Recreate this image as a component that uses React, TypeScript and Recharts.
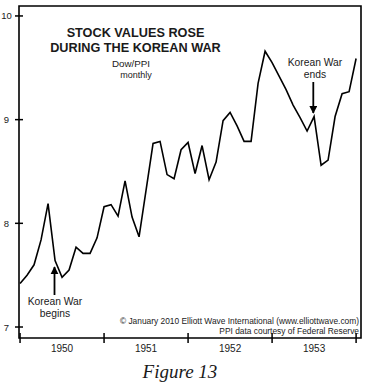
import React from 'react';
import { LineChart, Line, XAxis, YAxis, ReferenceArea } from 'recharts';

// Dow/PPI monthly, Jan 1950 .. Jan 1954 (index = months since Jan 1950)
const MONTHS = [
  0, 1, 2, 3, 4, 5, 6, 7, 8, 9, 10, 11,
  12, 13, 14, 15, 16, 17, 18, 19, 20, 21, 22, 23,
  24, 25, 26, 27, 28, 29, 30, 31, 32, 33, 34, 35,
  36, 37, 38, 39, 40, 41, 42, 43, 44, 45, 46, 47,
  48,
];
const DOW_PPI = [
  7.42, 7.5, 7.6, 7.84, 8.19, 7.64, 7.48, 7.55, 7.77, 7.71, 7.71, 7.86,
  8.16, 8.18, 8.07, 8.41, 8.06, 7.87, 8.32, 8.77, 8.79, 8.47, 8.43, 8.71,
  8.78, 8.48, 8.75, 8.42, 8.59, 8.99, 9.07, 8.94, 8.79, 8.79, 9.35, 9.66,
  9.55, 9.42, 9.29, 9.14, 9.02, 8.89, 9.03, 8.56, 8.61, 9.03, 9.25, 9.27,
  9.59,
];
const Y_TICKS = [7, 8, 9, 10];
const YEAR_TICKS = [0, 12, 24, 36, 48];
const YEAR_LABEL_POS = [6, 18, 30, 42];
const YEARS = ['1950', '1951', '1952', '1953'];

const data = MONTHS.map((m, i) => ({ m, v: DOW_PPI[i] }));

const font = '"Liberation Sans", Arial, Helvetica, sans-serif';
const ink = '#1a1a1a';

function YTick({ x, y, payload }: any) {
  return (
    <g>
      <line x1={x - 4} x2={x + 4} y1={y} y2={y} stroke="#000" strokeWidth={1.5} />
      <text x={x - 12.5} y={y + 3.5} textAnchor="middle" fontSize={9.5} fontFamily={font} fill={ink}>
        {payload.value}
      </text>
    </g>
  );
}

function XTick({ x, y, payload }: any) {
  const v = payload.value;
  if (YEAR_TICKS.includes(v)) {
    return <line x1={x} x2={x} y1={y - 5} y2={y + 5} stroke="#000" strokeWidth={1.5} />;
  }
  const idx = YEAR_LABEL_POS.indexOf(v);
  return (
    <text x={x} y={y + 14} textAnchor="middle" fontSize={10} fontFamily={font} fill={ink}>
      {YEARS[idx]}
    </text>
  );
}

export default function App() {
  return (
    <div style={{ position: 'absolute', left: 0, top: 0, width: 367, height: 386, background: '#fff' }}>
      <LineChart width={367} height={386} data={data} margin={{ top: 6, right: 6, left: 0, bottom: 0 }}>
        <XAxis
          dataKey="m"
          type="number"
          domain={[-0.15, 48.7]}
          allowDataOverflow
          ticks={[...YEAR_TICKS, ...YEAR_LABEL_POS].sort((a, b) => a - b)}
          interval={0}
          tickSize={0}
          tickMargin={0}
          axisLine={false}
          tickLine={false}
          tick={<XTick />}
          height={48}
        />
        <YAxis
          type="number"
          domain={[6.894, 10.096]}
          allowDataOverflow
          ticks={Y_TICKS}
          interval={0}
          tickSize={0}
          tickMargin={0}
          axisLine={false}
          tickLine={false}
          tick={<YTick />}
          width={19}
        />
        <ReferenceArea
          x1={-0.15}
          x2={48.7}
          y1={6.894}
          y2={10.096}
          fill="none"
          stroke="#000"
          strokeWidth={1.6}
          fillOpacity={0}
        />
        <Line
          type="linear"
          dataKey="v"
          stroke="#000"
          strokeWidth={1.6}
          dot={false}
          isAnimationActive={false}
        />
      </LineChart>
      <svg width={367} height={386} style={{ position: 'absolute', left: 0, top: 0, pointerEvents: 'none' }}>
        <defs>
          <marker id="ah" viewBox="0 0 10 10" refX="9" refY="5" markerWidth="4.5" markerHeight="4.5" orient="auto">
            <path d="M0,0 L10,5 L0,10 z" fill="#000" />
          </marker>
        </defs>
        <g fontFamily={font} fill={ink} textAnchor="middle">
          <text x={135.5} y={37} fontSize={12.7} fontWeight="bold">STOCK VALUES ROSE</text>
          <text x={135.5} y={52} fontSize={12.7} fontWeight="bold">DURING THE KOREAN WAR</text>
          <text x={131} y={67} fontSize={9.8}>Dow/PPI</text>
          <text x={136} y={78} fontSize={9}>monthly</text>
          <text x={315} y={66} fontSize={10.3}>Korean War</text>
          <text x={315} y={78} fontSize={10.3}>ends</text>
          <text x={55} y={305} fontSize={10.3}>Korean War</text>
          <text x={55} y={317} fontSize={10.3}>begins</text>
          <text x={359} y={324} fontSize={8.4} textAnchor="end">
            © January 2010 Elliott Wave International (www.elliottwave.com)
          </text>
          <text x={359} y={333.5} fontSize={8.4} textAnchor="end">PPI data courtesy of Federal Reserve</text>
        </g>
        <line x1={313.3} y1={82} x2={313.3} y2={113} stroke="#000" strokeWidth={1.8} markerEnd="url(#ah)" />
        <line x1={54.5} y1={295} x2={54.5} y2={267} stroke="#000" strokeWidth={1.8} markerEnd="url(#ah)" />
        <text
          x={180}
          y={378}
          fontSize={19}
          fontStyle="italic"
          fontFamily='"Liberation Serif", "Times New Roman", serif'
          fill={ink}
          textAnchor="middle"
        >
          Figure 13
        </text>
      </svg>
    </div>
  );
}
